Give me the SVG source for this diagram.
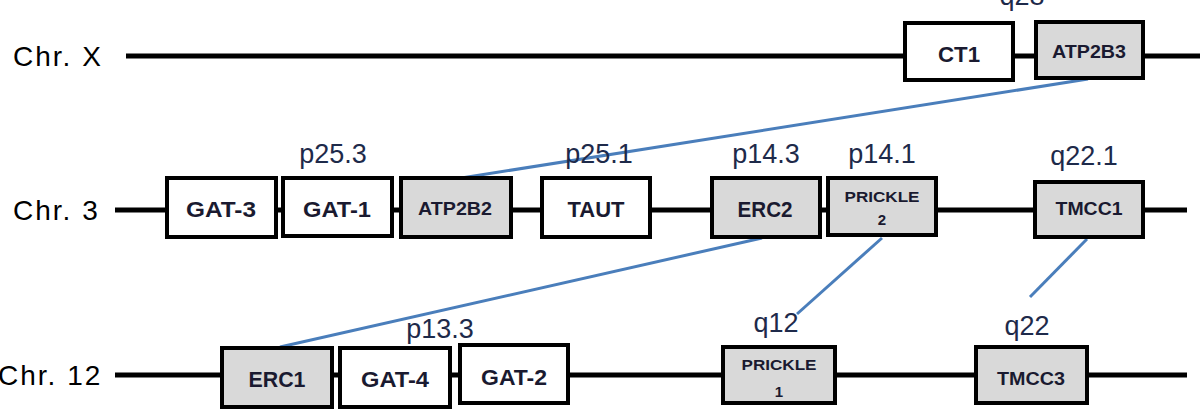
<svg xmlns="http://www.w3.org/2000/svg" width="1204" height="418" viewBox="0 0 1204 418">
<style>
.chr{stroke:#000;stroke-width:5;fill:none}
.box{stroke:#000;stroke-width:4;fill:#fff}
.g{fill:#d9d9d9}
.lbl{font-family:"Liberation Sans",Arial,sans-serif;font-size:27px;fill:#1e2a4a;text-anchor:middle}
.cl{font-family:"Liberation Sans",Arial,sans-serif;font-size:28px;fill:#000;letter-spacing:2px}
.t{font-family:"Liberation Sans",Arial,sans-serif;font-weight:bold;font-size:22px;fill:#1a1a30;text-anchor:middle}
.s{font-size:19px}
.xs{font-size:15px}
.link{stroke:#4a7ebb;stroke-width:3;fill:none}
</style>
<g id="chromosomes">
<text class="cl" x="13" y="66">Chr. X</text>
<line class="chr" x1="126" y1="56" x2="1200" y2="56"/>
<text class="cl" x="13" y="220">Chr. 3</text>
<line class="chr" x1="115" y1="210" x2="1187" y2="210"/>
<text class="cl" x="-2" y="385">Chr. 12</text>
<line class="chr" x1="115" y1="375" x2="1187" y2="375"/>
</g>
<g id="connectors">
<line class="link" x1="1088" y1="79" x2="455" y2="179"/>
<line class="link" x1="762" y1="238" x2="280" y2="347"/>
<line class="link" x1="882" y1="238" x2="797" y2="314"/>
<line class="link" x1="1087" y1="239" x2="1030" y2="297"/>
</g>
<g id="bandlabels">
<text class="lbl" x="1022" y="5">q28</text>
<text class="lbl" x="333" y="163">p25.3</text>
<text class="lbl" x="599" y="163">p25.1</text>
<text class="lbl" x="766" y="163">p14.3</text>
<text class="lbl" x="882" y="163">p14.1</text>
<text class="lbl" x="1084" y="165">q22.1</text>
<text class="lbl" x="440" y="338">p13.3</text>
<text class="lbl" x="776" y="332">q12</text>
<text class="lbl" x="1027" y="335">q22</text>
</g>
<g id="CT1"><rect class="box" x="905" y="23" width="108" height="57"/><text class="t" x="959" y="62" textLength="42" lengthAdjust="spacingAndGlyphs">CT1</text></g>
<g id="ATP2B3"><rect class="box g" x="1036" y="22" width="107" height="56"/><text class="t s" x="1089" y="58" textLength="74" lengthAdjust="spacingAndGlyphs">ATP2B3</text></g>
<g id="GAT-3"><rect class="box" x="167" y="178" width="109" height="59"/><text class="t" x="221" y="217" textLength="70" lengthAdjust="spacingAndGlyphs">GAT-3</text></g>
<g id="GAT-1"><rect class="box" x="283" y="178" width="109" height="58"/><text class="t" x="337" y="217" textLength="68" lengthAdjust="spacingAndGlyphs">GAT-1</text></g>
<g id="ATP2B2"><rect class="box g" x="401" y="178" width="110" height="59"/><text class="t s" x="455" y="215" textLength="74" lengthAdjust="spacingAndGlyphs">ATP2B2</text></g>
<g id="TAUT"><rect class="box" x="542" y="178" width="108" height="59"/><text class="t" x="596" y="217" textLength="57" lengthAdjust="spacingAndGlyphs">TAUT</text></g>
<g id="ERC2"><rect class="box g" x="712" y="178" width="108" height="59"/><text class="t" x="765" y="217" textLength="55" lengthAdjust="spacingAndGlyphs">ERC2</text></g>
<g id="PRICKLE2"><rect class="box g" x="828" y="178" width="108" height="57"/><text class="t xs" x="882" y="202" textLength="75" lengthAdjust="spacingAndGlyphs">PRICKLE</text><text class="t xs" x="882" y="225">2</text></g>
<g id="TMCC1"><rect class="box g" x="1035" y="182" width="108" height="55"/><text class="t s" x="1089" y="215" textLength="67" lengthAdjust="spacingAndGlyphs">TMCC1</text></g>
<g id="ERC1"><rect class="box g" x="222" y="348" width="110" height="59"/><text class="t" x="277" y="387" textLength="57" lengthAdjust="spacingAndGlyphs">ERC1</text></g>
<g id="GAT-4"><rect class="box" x="340" y="348" width="110" height="59"/><text class="t" x="395" y="387" textLength="68" lengthAdjust="spacingAndGlyphs">GAT-4</text></g>
<g id="GAT-2"><rect class="box" x="460" y="345" width="108" height="58"/><text class="t" x="514" y="385" textLength="66" lengthAdjust="spacingAndGlyphs">GAT-2</text></g>
<g id="PRICKLE1"><rect class="box g" x="723" y="347" width="112" height="56"/><text class="t xs" x="779" y="370" textLength="75" lengthAdjust="spacingAndGlyphs">PRICKLE</text><text class="t xs" x="779" y="397">1</text></g>
<g id="TMCC3"><rect class="box g" x="976" y="347" width="111" height="56"/><text class="t s" x="1031" y="385" textLength="68" lengthAdjust="spacingAndGlyphs">TMCC3</text></g>
</svg>
